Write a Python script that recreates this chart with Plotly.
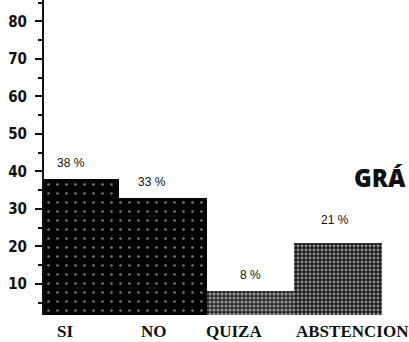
import plotly.graph_objects as go

# Survey answers and their share of responses (%)
categories = ["SI", "NO", "QUIZA", "ABSTENCION"]
percentages = [38, 33, 8, 21]
value_labels = ["38 %", "33 %", "8 %", "21 %"]
y_ticks = [10, 20, 30, 40, 50, 60, 70, 80]

x_idx = list(range(len(categories)))

# Speckled fills: dark black for the first two answers, grey halftone for the rest
bg_colors = ["#030303", "#030303", "#262626", "#1c1c1c"]
dot_solidity = [0.06, 0.06, 0.5, 0.42]
dot_size = [9, 9, 4, 4]

fig = go.Figure(
    go.Bar(
        x=x_idx,
        y=percentages,
        width=1.0,
        marker=dict(
            color=bg_colors,
            line=dict(width=0),
            pattern=dict(
                shape=".",
                fgcolor="#ffffff",
                bgcolor=bg_colors,
                size=dot_size,
                solidity=dot_solidity,
                fillmode="overlay",
            ),
        ),
        hoverinfo="skip",
    )
)

# Percentage labels above each bar
label_dx = [-5, -11, 0, -3]
label_dy = [16, 16, 16, 23]
for i, (v, txt) in enumerate(zip(percentages, value_labels)):
    fig.add_annotation(
        x=i, y=v, xref="x", yref="y", text=txt, showarrow=False,
        xshift=label_dx[i], yshift=label_dy[i],
        font=dict(family="Liberation Sans, Arial", size=12, color="#111"),
    )

# Category names under the bars
cat_dx = [-11, -9, -17, 14]
for i, name in enumerate(categories):
    fig.add_annotation(
        x=i, y=0, xref="x", yref="paper", text=name, showarrow=False,
        xanchor="center", yanchor="top", yshift=-5, xshift=cat_dx[i],
        font=dict(family="Liberation Serif, DejaVu Serif", size=17,
                  color="#111", weight=700),
    )

# Heading fragment on the right
fig.add_annotation(
    x=0.912, y=0.435, xref="paper", yref="paper", text="GRÁ", showarrow=False,
    xanchor="left", yanchor="middle",
    font=dict(family="Open Sans, Lato", size=24, color="#111", weight=800),
)

fig.update_layout(
    width=409,
    height=342,
    margin=dict(l=44, r=27, t=0, b=27),
    paper_bgcolor="white",
    plot_bgcolor="white",
    bargap=0,
    showlegend=False,
    xaxis=dict(
        range=[-0.36, 3.5],
        showticklabels=False,
        ticks="",
        showgrid=False,
        zeroline=False,
        showline=False,
    ),
    yaxis=dict(
        range=[1.7, 85.7],
        tickvals=y_ticks,
        ticks="outside",
        ticklen=7,
        tickwidth=1.5,
        tickcolor="#111",
        ticklabelstandoff=5,
        tickfont=dict(family="Liberation Sans Narrow, DejaVu Sans Condensed, Arial Narrow",
                      size=15, color="#111", weight=700),
        minor=dict(dtick=5, tick0=0, ticks="outside", ticklen=4,
                   tickwidth=1.5, tickcolor="#111"),
        showgrid=False,
        zeroline=False,
        showline=True,
        linecolor="#111",
        linewidth=2,
    ),
)

fig.write_html("out.html")
